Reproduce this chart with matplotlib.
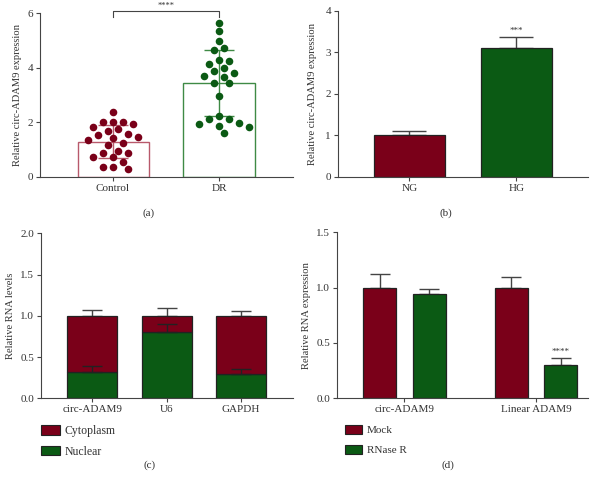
import numpy as np
import matplotlib
matplotlib.use("Agg")
import matplotlib.pyplot as plt
from matplotlib.patches import Patch

plt.rcParams["font.family"] = ["Liberation Serif", "DejaVu Serif"]
plt.rcParams["font.size"] = 8

RED = "#7a0019"
GREEN = "#0b5a14"
RED_EDGE = "#b8596b"
GREEN_EDGE = "#3f8a45"
AXIS = "#444444"
TEXT = "#333333"

# (a) individual samples
groups_a = ["Control", "DR"]
control_vals = [2.36, 2.01, 1.93, 2.01, 2.02, 1.75, 1.57, 1.81, 1.45, 1.35, 1.53, 1.66,
                1.42, 1.17, 1.23, 0.88, 0.72, 0.72, 0.87, 0.96, 0.55, 0.36, 0.28, 0.34]
dr_vals = [5.66, 5.35, 5.00, 4.67, 4.72, 4.13, 4.28, 4.24, 3.89, 3.98, 3.71, 3.67,
           3.80, 3.46, 3.43, 2.95, 2.22, 2.11, 2.13, 1.99, 1.88, 1.84, 1.93, 1.59]
means_a = [1.29, 3.45]
sd_a = [0.60, 1.22]

# (b)
groups_b = ["NG", "HG"]
means_b = [1.00, 3.11]
err_b = [0.10, 0.26]

# (c)
genes_c = ["circ-ADAM9", "U6", "GAPDH"]
nuclear = [0.32, 0.80, 0.30]
nuclear_err = [0.07, 0.10, 0.06]
total_c = [1.00, 1.00, 1.00]
total_err = [0.07, 0.10, 0.06]

# (d)
genes_d = ["circ-ADAM9", "Linear ADAM9"]
mock = [1.00, 1.00]
mock_err = [0.12, 0.10]
rnase = [0.94, 0.30]
rnase_err = [0.05, 0.06]


def style_axes(ax):
    for s in ["top", "right"]:
        ax.spines[s].set_visible(False)
    for s in ["left", "bottom"]:
        ax.spines[s].set_color(AXIS)
        ax.spines[s].set_linewidth(0.8)
    ax.tick_params(direction="out", length=3, width=0.8, color=AXIS,
                   labelcolor=TEXT, labelsize=8, pad=2)
    ax.yaxis.label.set_color(TEXT)


def swarm_offsets(vals, x_scale, y_scale, diam, step):
    # simple beeswarm in pixel space, returns x offsets in data units
    placed = []
    offsets = np.zeros(len(vals))
    order = np.argsort(vals)[::-1]
    for i in order:
        y = vals[i] * y_scale
        k = 0
        while True:
            cands = [0.0] if k == 0 else [k * step, -k * step]
            ok = None
            for c in cands:
                if all((c - px) ** 2 + (y - py) ** 2 >= diam ** 2 for px, py in placed):
                    ok = c
                    break
            if ok is not None:
                placed.append((ok, y))
                offsets[i] = ok / x_scale
                break
            k += 1
    return offsets


fig = plt.figure(figsize=(5.95, 4.78), dpi=100)

# ---- (a)
ax = fig.add_axes([0.0672, 0.6304, 0.4252, 0.3416])
style_axes(ax)
x = np.arange(len(groups_a))
edges = [RED_EDGE, GREEN_EDGE]
ax.bar(x, means_a, width=0.67, color="white", edgecolor=edges, linewidth=1.0, zorder=1)
for xi, m, s, c in zip(x, means_a, sd_a, edges):
    ax.errorbar(xi, m, yerr=s, color=c, capsize=10.5, elinewidth=1.0, capthick=1.0, zorder=2)
for xi, vals, c in zip(x, [control_vals, dr_vals], [RED, GREEN]):
    vals = np.array(vals)
    offs = swarm_offsets(vals, 106.0, 27.2, 8.2, 5.0)
    ax.scatter(xi + offs, vals, s=30, color=c, zorder=3, linewidths=0)
ax.set_xlim(-0.689, 1.698)
ax.set_ylim(0, 6)
ax.set_yticks([0, 2, 4, 6])
ax.set_xticks(x)
ax.set_xticklabels(groups_a)
ax.set_ylabel("Relative circ-ADAM9 expression", fontsize=7.6, labelpad=4)
ax.plot([0, 0, 1, 1], [5.85, 6.1, 6.1, 5.85], color=AXIS, lw=0.8, clip_on=False)
ax.text(0.5, 6.12, "****", ha="center", va="bottom", fontsize=6, color=TEXT, clip_on=False)

# ---- (b)
ax = fig.add_axes([0.568, 0.6304, 0.4202, 0.3473])
style_axes(ax)
x = np.arange(len(groups_b))
ax.bar(x, means_b, width=0.66, color=[RED, GREEN], edgecolor="#222222", linewidth=0.9, zorder=2)
ax.errorbar(x, means_b, yerr=[[0, 0], err_b], fmt="none", ecolor=AXIS,
            capsize=12, elinewidth=1.0, capthick=1.0, zorder=1)
ax.text(1, means_b[1] + err_b[1] + 0.04, "***", ha="center", va="bottom", fontsize=6.5, color=TEXT)
ax.set_xlim(-0.668, 1.668)
ax.set_ylim(0, 4)
ax.set_yticks([0, 1, 2, 3, 4])
ax.set_xticks(x)
ax.set_xticklabels(groups_b)
ax.set_ylabel("Relative circ-ADAM9 expression", fontsize=7.6, labelpad=6)

# ---- (c)
ax = fig.add_axes([0.0689, 0.1667, 0.4235, 0.3452])
style_axes(ax)
x = np.arange(len(genes_c))
cyto = [t - n for t, n in zip(total_c, nuclear)]
ax.errorbar(x, total_c, yerr=[[0] * 3, total_err], fmt="none", ecolor=AXIS,
            capsize=7.5, elinewidth=1.0, capthick=1.0, zorder=1)
ax.bar(x, nuclear, width=0.67, color=GREEN, edgecolor="#222222", linewidth=0.9, zorder=2, label="Nuclear")
ax.bar(x, cyto, bottom=nuclear, width=0.67, color=RED, edgecolor="#222222", linewidth=0.9, zorder=2,
       label="Cytoplasm")
ax.errorbar(x, nuclear, yerr=[[0] * 3, nuclear_err], fmt="none", ecolor="#222222",
            capsize=7.5, elinewidth=1.0, capthick=1.0, zorder=3)
ax.set_xlim(-0.685, 2.695)
ax.set_ylim(0, 2.0)
ax.set_yticks([0, 0.5, 1.0, 1.5, 2.0])
ax.set_yticklabels(["0.0", "0.5", "1.0", "1.5", "2.0"])
ax.set_xticks(x)
ax.set_xticklabels(genes_c)
ax.set_ylabel("Relative RNA levels", fontsize=7.6, labelpad=4)
handles = [Patch(facecolor=RED, edgecolor="#222222", lw=0.8, label="Cytoplasm"),
           Patch(facecolor=GREEN, edgecolor="#222222", lw=0.8, label="Nuclear")]
ax.legend(handles=handles, loc="upper left", bbox_to_anchor=(0.0, -0.16), frameon=False,
          fontsize=8.5, handlelength=1.6, handleheight=0.9, labelspacing=0.75, handletextpad=0.4,
          borderaxespad=0, borderpad=0, labelcolor=TEXT)

# ---- (d)
ax = fig.add_axes([0.5664, 0.1667, 0.4218, 0.3473])
style_axes(ax)
x = np.arange(len(genes_d))
off = 0.188
ax.errorbar(x - off, mock, yerr=[[0, 0], mock_err], fmt="none", ecolor=AXIS,
            capsize=7, elinewidth=1.0, capthick=1.0, zorder=1)
ax.errorbar(x + off, rnase, yerr=[[0, 0], rnase_err], fmt="none", ecolor=AXIS,
            capsize=7, elinewidth=1.0, capthick=1.0, zorder=1)
ax.bar(x - off, mock, width=0.25, color=RED, edgecolor="#222222", linewidth=0.9, zorder=2)
ax.bar(x + off, rnase, width=0.25, color=GREEN, edgecolor="#222222", linewidth=0.9, zorder=2)
ax.text(1 + off, rnase[1] + rnase_err[1] + 0.02, "****", ha="center", va="bottom", fontsize=6.5, color=TEXT)
ax.set_xlim(-0.513, 1.396)
ax.set_ylim(0, 1.5)
ax.set_yticks([0, 0.5, 1.0, 1.5])
ax.set_yticklabels(["0.0", "0.5", "1.0", "1.5"])
ax.set_xticks(x)
ax.set_xticklabels(genes_d)
ax.set_ylabel("Relative RNA expression", fontsize=7.6, labelpad=4)
handles = [Patch(facecolor=RED, edgecolor="#222222", lw=0.8, label="Mock"),
           Patch(facecolor=GREEN, edgecolor="#222222", lw=0.8, label="RNase R")]
ax.legend(handles=handles, loc="upper left", bbox_to_anchor=(0.03, -0.16), frameon=False,
          fontsize=8, handlelength=1.6, handleheight=0.9, labelspacing=0.85, handletextpad=0.4,
          borderaxespad=0, borderpad=0, labelcolor=TEXT)

# panel letters
for lx, ly, lab in [(0.25, 0.555, "(a)"), (0.75, 0.555, "(b)"), (0.252, 0.027, "(c)"), (0.752, 0.027, "(d)")]:
    fig.text(lx, ly, lab, ha="center", va="center", fontsize=8, color=TEXT)

fig.savefig("out.png", dpi=100)
